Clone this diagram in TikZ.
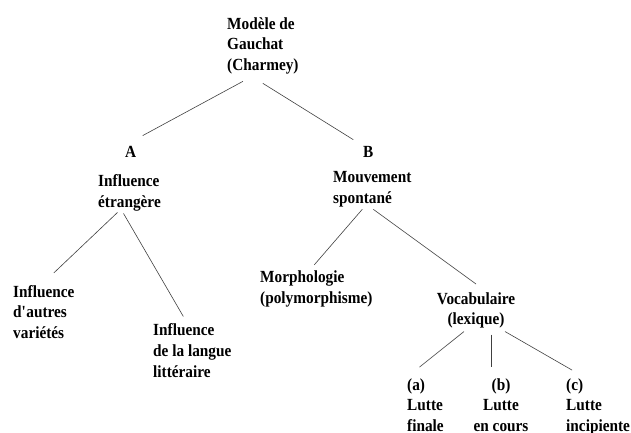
\documentclass[tikz,border=0pt]{standalone}
\usepackage{fontspec}
\newfontfamily\treefont{Liberation Serif}[FakeStretch=0.9]
\tikzset{
  basic/.style  = {inner sep=0pt, font=\treefont\bfseries\fontsize{17}{20.7}\selectfont},
  root/.style   = {basic, align=left, anchor=base west},
  letter/.style = {basic, anchor=base west},
  branch/.style = {basic, align=left, anchor=base west},
  middle/.style = {basic, align=center, anchor=base},
  link/.style   = {draw=black!75, line width=0.6pt}
}
\begin{document}
\begin{tikzpicture}[x=1pt, y=-1pt]
	  \useasboundingbox (0,0) rectangle (631,433);

	  % root of the tree (nodes sit on the baseline of their last line)
	  \node[root] (gauchat) at (227,70.5) {Modèle de\\Gauchat\\(Charmey)};

	  % the first level, letters and heads
	  \node[letter] (lA) at (125,157) {A};
	  \node[letter] (lB) at (363,157) {B};
	  \node[branch] (infl) at (98,207.5) {Influence\\étrangère};
	  \node[branch] (mouv) at (333,203.5) {Mouvement\\spontané};

	  % the second level
	  \node[branch] (infl1) at (13,338.5) {Influence\\d\textquotesingle autres\\variétés};
	  \node[branch] (infl2) at (153,377) {Influence\\de la langue\\littéraire};
	  \node[branch] (mouv1) at (260,303.5) {Morphologie\\(polymorphisme)};
	  \node[middle] (mouv2) at (476,324.7) {Vocabulaire\\(lexique)};

	  % the third level, below the vocabulary
	  \node[branch] (voc1) at (407,431.5) {(a)\\Lutte\\finale};
	  \node[middle] (voc2) at (501,431.5) {(b)\\Lutte\\en cours};
	  \node[branch] (voc3) at (566,431.5) {(c)\\Lutte\\incipiente};

	  % lines from the root to A and B
	  \draw[link] ([shift={(-20,7)}]gauchat.south) -- ([shift={(12,-10)}]lA.north);
	  \draw[link] ([shift={(0,9)}]gauchat.south) -- ([shift={(-15,-6)}]lB.north);

	  % lines from each head to its children
	  \draw[link] ([shift={(-12,1)}]infl.south) -- ([shift={(10,-12)}]infl1.north);
	  \draw[link] ([shift={(-6,2)}]infl.south) -- ([shift={(-9,-7)}]infl2.north);
	  \draw[link] ([shift={(-10,2)}]mouv.south) -- ([shift={(-2,-6)}]mouv1.north);
	  \draw[link] ([shift={(1,2)}]mouv.south) -- ([shift={(0,-8)}]mouv2.north);

	  \foreach \value/\sx/\sy/\ex/\ey in {1/-12/3/-6/-11, 2/15/6/-10/-11, 3/29/3/-26/-8}
		\draw[link] ([shift={(\sx,\sy)}]mouv2.south) -- ([shift={(\ex,\ey)}]voc\value.north);

\end{tikzpicture}
\end{document}
